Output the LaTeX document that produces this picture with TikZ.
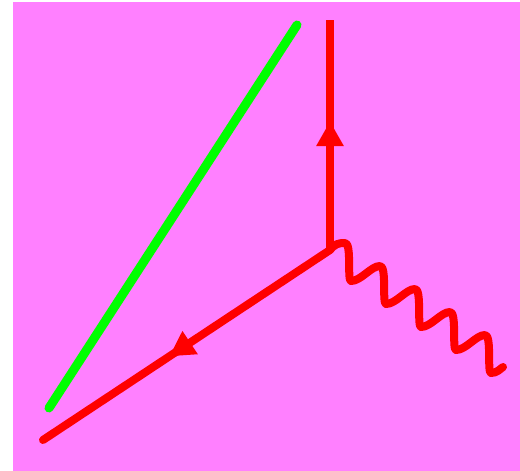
\documentclass[tikz,border=0pt]{standalone}
\usetikzlibrary{arrows.meta,decorations.markings}
\definecolor{bgmag}{HTML}{FF80FF}
\definecolor{lred}{HTML}{FF0000}
\definecolor{lgreen}{HTML}{00FF00}
\tikzset{
  redline/.style={draw=lred,line width=8pt},
  greenline/.style={draw=lgreen,line width=9pt,line cap=round},
  midarrow/.style={postaction={decorate,decoration={markings,
    mark=at position #1 with {\arrow{Triangle[length=25pt,width=26pt,color=lred]}}}}}
}
\begin{document}
\begin{tikzpicture}[x=1pt,y=-1pt]
\useasboundingbox (0,0) rectangle (520,471);
\fill[bgmag] (13,2) rectangle (520,471);
\coordinate (v) at (330,250);
\coordinate (t) at (330,20);
\coordinate (b) at (43,440);
\coordinate (g1) at (297,25);
\coordinate (g2) at (49,408);
\coordinate (w) at (503,367);
% green line
\draw[greenline] (g1) -- (g2);
% vertical fermion
\draw[redline,midarrow=0.56] (v) -- (t);
% diagonal fermion
\draw[redline,line cap=round,midarrow=0.56] (v) -- (b);
% photon wave
\draw[redline,line join=round,line cap=round] (v) .. controls (335,244) and (338,243) .. (345,243)
  .. controls (352,243) and (347,281) .. (351,281)
  .. controls (361,281) and (371,266) .. (380,266)
  .. controls (387,266) and (382,304) .. (386,304)
  .. controls (396,304) and (406,289) .. (415,289)
  .. controls (422,289) and (417,327) .. (421,327)
  .. controls (431,327) and (441,312) .. (450,312)
  .. controls (457,312) and (452,350) .. (456,350)
  .. controls (466,350) and (476,335) .. (485,335)
  .. controls (492,335) and (487,373) .. (491,373)
  .. controls (497,373) and (500,369) .. (w);
\end{tikzpicture}
\end{document}
